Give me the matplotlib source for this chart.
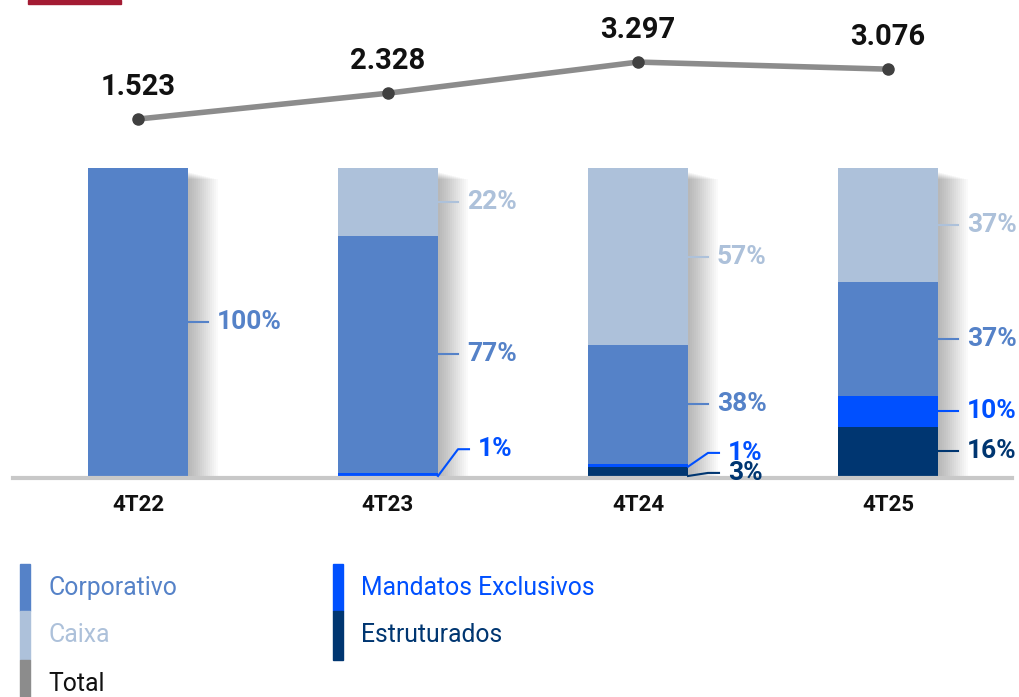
import matplotlib
matplotlib.use("Agg")
import matplotlib.pyplot as plt
from matplotlib.patches import Rectangle

# dados
periodos = ["4T22", "4T23", "4T24", "4T25"]
total = [1.523, 2.328, 3.297, 3.076]
estruturados = [0, 0, 3, 16]
mandatos = [0, 1, 1, 10]
corporativo = [100, 77, 38, 37]
caixa = [0, 22, 57, 37]

series = [
    ("Estruturados", estruturados, "#003671"),
    ("Mandatos Exclusivos", mandatos, "#0050FF"),
    ("Corporativo", corporativo, "#5582C8"),
    ("Caixa", caixa, "#ADC1DA"),
]
cor_total = "#8C8C8C"

W, H = 1019, 697
fig = plt.figure(figsize=(W / 100, H / 100), dpi=100)

# eixo das barras: y=0 no pixel 476, 308 px = 100%
ax = fig.add_axes([0, (H - 476) / H, 1, 476 / H])
ax.set_xlim(-138 / 250, (W - 138) / 250)
ax.set_ylim(0, 476 / 308 * 100)
ax.axis("off")

bw = 0.4
px = 1 / 250  # unidade x por pixel
py = 100 / 308  # unidade y por pixel
x = list(range(len(periodos)))

# soma de cada coluna (percentuais arredondados)
somas = [sum(s[1][i] for s in series) for i in x]

# sombra das barras
for i in x:
    for k in range(1, 16):
        ax.add_patch(Rectangle((i - bw / 2 + k * 2 * px, 0), bw,
                               100 - (4 + k * 0.5) * py,
                               color="#000000", alpha=0.021, lw=0, zorder=1))

bottom = [0] * len(x)
for nome, vals, cor in series:
    alt = [v / s * 100 for v, s in zip(vals, somas)]
    ax.bar(x, alt, bw, bottom=bottom, color=cor, zorder=3)
    bottom = [b + a for b, a in zip(bottom, alt)]

ax.plot([-138 / 250 + 13 * px, (1012 - 138) / 250], [-0.7, -0.7],
        color="#C8C8C8", lw=3, zorder=4, clip_on=False)

# rótulos percentuais
fonte_num = ["Roboto", "DejaVu Sans"]
ajuste = {(1, "Mandatos Exclusivos"): 8.7, (2, "Mandatos Exclusivos"): 7.5,
          (2, "Estruturados"): 1.0}
for i in x:
    base = 0
    for nome, vals, cor in series:
        v = vals[i]
        a = v / somas[i] * 100
        if v > 0:
            ym = base + a / 2
            yl = ajuste.get((i, nome), ym)
            x0 = i + bw / 2
            if yl != ym:
                ax.plot([x0, x0 + 20 * px, x0 + 31 * px], [base, yl, yl],
                        color=cor, lw=1.5, zorder=5, clip_on=False)
            else:
                ax.plot([x0, x0 + 20 * px], [ym, ym], color=cor, lw=1.5,
                        zorder=5)
            ax.text(x0 + 29 * px + (11 * px if yl != ym else 0), yl,
                    f"{v}%", color=cor, fontsize=19, fontweight="bold",
                    family=fonte_num, va="center", ha="left", zorder=6)
        base += a
    ax.text(i, -9.3, periodos[i], ha="center", va="center", fontsize=16,
            fontweight="bold", family=fonte_num, color="#111111")

# linha do total: zero no topo das barras, 32.13 px por unidade
ax2 = fig.add_axes(ax.get_position())
ax2.set_xlim(ax.get_xlim())
ax2.set_ylim(-(476 - 168) / 32.13, 168 / 32.13)
ax2.axis("off")
ax2.plot(x, total, color=cor_total, lw=4, zorder=2)
ax2.plot(x, total, "o", color="#404040", ms=8, zorder=3)
for i, v in zip(x, total):
    ax2.text(i, v + 1.0, f"{v:.3f}", ha="center", va="center", fontsize=21,
             fontweight="bold", family=fonte_num, color="#111111")

# faixa vermelha do topo
fig.patches.append(Rectangle((28 / W, (H - 4) / H), 93 / W, 4 / H,
                             transform=fig.transFigure, color="#A31B33"))

# legenda
itens = [
    (20, 564, 611, "Corporativo", "#5582C8", "#5582C8"),
    (20, 611, 660, "Caixa", "#ADC1DA", "#ADC1DA"),
    (20, 660, 697, "Total", cor_total, "#111111"),
    (333, 564, 611, "Mandatos Exclusivos", "#0050FF", "#0050FF"),
    (333, 611, 660, "Estruturados", "#003671", "#003671"),
]
for lx, y0, y1, nome, cor, cor_txt in itens:
    fig.patches.append(Rectangle((lx / W, (H - y1) / H), 10 / W, (y1 - y0) / H,
                                 transform=fig.transFigure, color=cor))
    fig.text((lx + 28) / W, (H - (y0 + 24)) / H, nome, color=cor_txt,
             fontsize=17.8, family=["Roboto", "DejaVu Sans"],
             va="center", ha="left")

fig.savefig("out.png", dpi=100)
